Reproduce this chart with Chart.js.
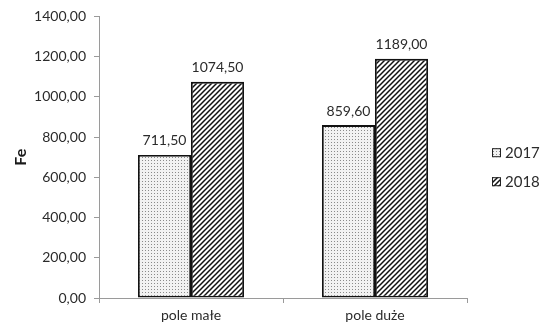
<!DOCTYPE html>
<html>
<head>
<meta charset="utf-8">
<script src="https://cdn.jsdelivr.net/npm/chart.js@4.4.1/dist/chart.umd.min.js"></script>
<style>
  html, body { margin: 0; padding: 0; background: #ffffff; }
  #wrap { width: 542px; height: 329px; position: relative; }
</style>
</head>
<body>
<div id="wrap"><canvas id="c" width="542" height="329"></canvas></div>
<script>
// Iron content (Fe) by field size, two seasons
const categories = ['pole małe', 'pole duże'];
const seriesNames = ['2017', '2018'];
const values2017 = [711.50, 859.60];
const values2018 = [1074.50, 1189.00];
const yTicks = [0, 200, 400, 600, 800, 1000, 1200, 1400];

const FONT = 'Lato, "Open Sans", sans-serif';

function fmt(v) {
  return v.toFixed(2).replace('.', ',');
}

// fine stipple fill
function dotPattern() {
  const p = document.createElement('canvas');
  p.width = 3; p.height = 3;
  const g = p.getContext('2d');
  g.fillStyle = '#f2f2f2';
  g.fillRect(0, 0, 3, 3);
  g.fillStyle = '#8a8a8a';
  g.fillRect(1, 1, 1, 1);
  return g.createPattern(p, 'repeat');
}

// forward diagonal hatch
function hatchPattern() {
  const s = 5;
  const p = document.createElement('canvas');
  p.width = s; p.height = s;
  const g = p.getContext('2d');
  g.fillStyle = '#ffffff';
  g.fillRect(0, 0, s, s);
  g.strokeStyle = '#111111';
  g.lineWidth = 1.5;
  g.beginPath();
  g.moveTo(-1, s + 1); g.lineTo(s + 1, -1);
  g.moveTo(-1, 1); g.lineTo(1, -1);
  g.moveTo(s - 1, s + 1); g.lineTo(s + 1, s - 1);
  g.stroke();
  return g.createPattern(p, 'repeat');
}

const fills = [dotPattern(), hatchPattern()];

// value labels above each bar
const valueLabels = {
  id: 'valueLabels',
  afterDatasetsDraw(chart) {
    const ctx = chart.ctx;
    ctx.save();
    ctx.font = '14px ' + FONT;
    ctx.fillStyle = '#2b2b2b';
    ctx.textAlign = 'center';
    ctx.textBaseline = 'bottom';
    chart.data.datasets.forEach((ds, i) => {
      chart.getDatasetMeta(i).data.forEach((bar, j) => {
        ctx.fillText(fmt(ds.data[j]), bar.x, bar.y - 7);
      });
    });
    ctx.restore();
  }
};

// legend on the right with small patterned swatches
const sideLegend = {
  id: 'sideLegend',
  afterDraw(chart) {
    const ctx = chart.ctx;
    const x = chart.chartArea.right + 25;
    const yMid = (chart.chartArea.top + chart.chartArea.bottom) / 2 + 10;
    const gap = 29;
    ctx.save();
    ctx.font = '15px ' + FONT;
    ctx.textBaseline = 'middle';
    chart.data.datasets.forEach((ds, i) => {
      const y = yMid + (i - 0.5) * gap;
      ctx.fillStyle = ds.backgroundColor;
      ctx.fillRect(x, y - 4.5, 9, 9);
      ctx.strokeStyle = '#222';
      ctx.lineWidth = 1;
      ctx.strokeRect(x + 0.5, y - 4, 8, 8);
      ctx.fillStyle = '#2b2b2b';
      ctx.fillText(ds.label, x + 13, y);
    });
    ctx.restore();
  }
};

new Chart(document.getElementById('c'), {
  type: 'bar',
  data: {
    labels: categories,
    datasets: [
      { label: seriesNames[0], data: values2017, backgroundColor: fills[0] },
      { label: seriesNames[1], data: values2018, backgroundColor: fills[1] }
    ]
  },
  options: {
    responsive: false,
    animation: false,
    events: [],
    layout: { padding: { top: 15, right: 75, bottom: 0, left: 0 } },
    datasets: {
      bar: {
        borderColor: '#111111',
        borderWidth: 1.8,
        borderSkipped: false,
        barPercentage: 1,
        categoryPercentage: 0.576
      }
    },
    plugins: {
      legend: { display: false },
      tooltip: { enabled: false }
    },
    scales: {
      x: {
        grid: {
          display: true,
          offset: true,
          drawOnChartArea: false,
          drawTicks: true,
          tickLength: 5,
          color: '#9a9a9a'
        },
        border: { color: '#9a9a9a', width: 1 },
        ticks: {
          color: '#2b2b2b',
          font: { family: FONT, size: 14 },
          padding: 4
        },
        afterFit(scale) { scale.height = 31; }
      },
      y: {
        min: 0,
        max: 1400,
        afterBuildTicks(scale) {
          scale.ticks = yTicks.map(v => ({ value: v }));
        },
        grid: {
          display: true,
          drawOnChartArea: false,
          drawTicks: true,
          tickLength: 5,
          color: '#9a9a9a'
        },
        border: { color: '#9a9a9a', width: 1 },
        ticks: {
          color: '#2b2b2b',
          font: { family: FONT, size: 14 },
          padding: 8,
          callback: v => fmt(v)
        },
        title: {
          display: true,
          text: 'Fe',
          color: '#1a1a1a',
          font: { family: FONT, size: 16, weight: 'bold' },
          padding: { top: 11, bottom: 0 }
        },
        afterFit(scale) { scale.width = 99; }
      }
    }
  },
  plugins: [valueLabels, sideLegend]
});
</script>
</body>
</html>
